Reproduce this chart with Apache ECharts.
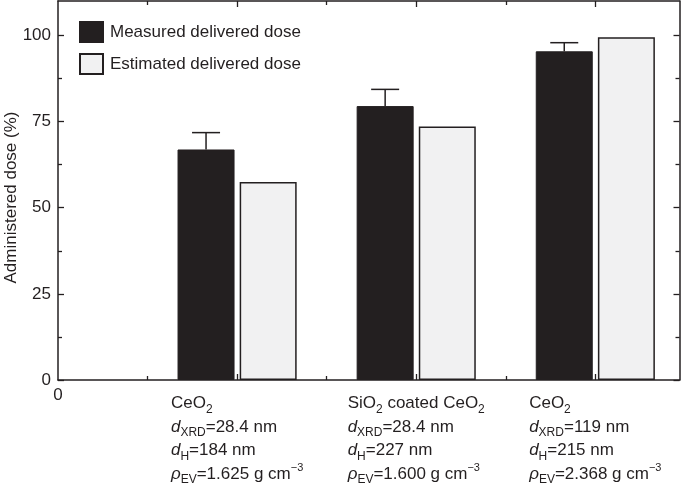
<!DOCTYPE html>
<html>
<head>
<meta charset="utf-8">
<script src="https://cdn.jsdelivr.net/npm/echarts@6/dist/echarts.min.js"></script>
<style>
  html, body { margin: 0; padding: 0; background: #fff; }
  #chart { width: 685px; height: 488px; }
</style>
</head>
<body>
<div id="chart"></div>
<script>
// ---- data ----
const groupPositions = [1, 2, 3];
const materials = ['CeO_2', 'SiO_2 coated CeO_2', 'CeO_2'];
const dXRD = ['28.4', '28.4', '119'];
const dH = ['184', '227', '215'];
const rhoEV = ['1.625', '1.600', '2.368'];
const measured = [66.9, 79.5, 95.4];
const measuredErr = [4.9, 4.85, 2.5];
const estimated = [57.5, 73.6, 99.5];
const seriesNames = ['Measured delivered dose', 'Estimated delivered dose'];
const yTickValues = [0, 25, 50, 75, 100];
const yMinorTickValues = [12.5, 37.5, 62.5, 87.5];
const xMajorTickValues = [1, 2, 3];
const xMinorTickValues = [0.5, 1.5, 2.5];
const xLabelValues = [0, 1, 2, 3];
const yTitle = 'Administered dose (%)';

// ---- style ----
const INK = '#231f20';
const LIGHT = '#f1f1f2';
const FONT = "'Liberation Sans', Arial, Helvetica, sans-serif";
const BAR_W = 57;
const BAR_GAP = 0.09;
const X_MAX = 3.47;
const Y_MAX = 110;

function markup(s) {
  return s.split(/(_\d+)/).filter(p => p.length).map(p =>
    p.startsWith('_') ? '{sub|' + p.slice(1) + '}' : '{n|' + p + '}'
  ).join('');
}

function groupLabel(i) {
  return [
    markup(materials[i]),
    '{i|d}{sub|XRD}{n|=' + dXRD[i] + ' nm}',
    '{i|d}{sub|H}{n|=' + dH[i] + ' nm}',
    '{i|ρ}{sub|EV}{n|=' + rhoEV[i] + ' g cm}{sup|−3}'
  ].join('\n');
}

const chart = echarts.init(document.getElementById('chart'), null, { renderer: 'canvas' });

const axisLineStyle = { color: INK, width: 1.5 };
const tickStyle = { color: INK, width: 1.3 };

function xAx(position, tickValues, tickLen, showLine, showLabels) {
  return {
    type: 'value', position: position, min: 0, max: X_MAX, interval: 0.5,
    axisLine: { show: showLine, onZero: false, lineStyle: axisLineStyle },
    axisTick: { show: true, inside: true, length: tickLen, customValues: tickValues, lineStyle: tickStyle },
    splitLine: { show: false },
    axisLabel: showLabels ? {
      customValues: xLabelValues,
      margin: 12,
      color: INK,
      fontFamily: FONT,
      fontSize: 17,
      align: 'center',
      formatter: function (v) {
        if (v === 0) return '{z|0}';
        const idx = groupPositions.indexOf(v);
        return idx >= 0 ? groupLabel(idx) : '';
      },
      rich: {
        z: { fontSize: 17, lineHeight: 6, fontFamily: FONT, color: INK },
        n: { fontSize: 17, lineHeight: 23.5, align: 'left', fontFamily: FONT, color: INK },
        i: { fontSize: 17, lineHeight: 23.5, align: 'left', fontStyle: 'italic', fontFamily: FONT, color: INK },
        sub: { fontSize: 12, lineHeight: 14, align: 'left', verticalAlign: 'bottom', fontFamily: FONT, color: INK },
        sup: { fontSize: 11, lineHeight: 12, align: 'left', verticalAlign: 'top', fontFamily: FONT, color: INK }
      }
    } : { show: false }
  };
}

function yAx(position, tickValues, tickLen, showLine, showLabels) {
  const ax = {
    type: 'value', position: position, min: 0, max: Y_MAX, interval: 25,
    axisLine: { show: showLine, onZero: false, lineStyle: axisLineStyle },
    axisTick: { show: true, inside: true, length: tickLen, customValues: tickValues, lineStyle: tickStyle },
    splitLine: { show: false },
    axisLabel: showLabels ? {
      customValues: yTickValues, margin: 7, color: INK, fontFamily: FONT, fontSize: 17
    } : { show: false }
  };
  if (showLabels) {
    ax.name = yTitle;
    ax.nameLocation = 'middle';
    ax.nameGap = 38;
    ax.nameMoveOverlap = false;
    ax.nameTextStyle = { color: INK, fontFamily: FONT, fontSize: 17, padding: [0, 14, 0, 0] };
  }
  return ax;
}

const gapPx = BAR_W * BAR_GAP;
const errOffset = -(BAR_W + gapPx) / 2;

const option = {
  animation: false,
  backgroundColor: '#fff',
  textStyle: { fontFamily: FONT, color: INK },
  grid: { left: 58, right: 5.5, top: 1, bottom: 108, containLabel: false, outerBoundsMode: 'none' },
  legend: {
    data: seriesNames,
    orient: 'vertical',
    left: 79, top: 21,
    padding: 0,
    itemWidth: 23, itemHeight: 20, itemGap: 10,
    icon: 'rect',
    textStyle: { fontSize: 17, color: INK, fontFamily: FONT, padding: [0, 0, 0, 2] }
  },
  xAxis: [
    xAx('bottom', xMinorTickValues, 4, true, true),
    xAx('bottom', xMajorTickValues, 6, false, false),
    xAx('top', xMinorTickValues, 4, true, false),
    xAx('top', xMajorTickValues, 6, false, false)
  ],
  yAxis: [
    yAx('left', yTickValues, 6, true, true),
    yAx('left', yMinorTickValues, 4, false, false),
    yAx('right', yTickValues, 6, true, false),
    yAx('right', yMinorTickValues, 4, false, false)
  ],
  series: [
    {
      name: seriesNames[0], type: 'bar', xAxisIndex: 0, yAxisIndex: 0,
      barWidth: BAR_W, barGap: (BAR_GAP * 100) + '%',
      itemStyle: { color: INK, borderColor: INK, borderWidth: 1 },
      data: measured.map((v, i) => [groupPositions[i], v]),
      z: 2
    },
    {
      name: seriesNames[1], type: 'bar', xAxisIndex: 0, yAxisIndex: 0,
      barWidth: BAR_W,
      itemStyle: { color: LIGHT, borderColor: INK, borderWidth: 1.5 },
      data: estimated.map((v, i) => [groupPositions[i], v]),
      z: 2
    },
    {
      type: 'custom', xAxisIndex: 0, yAxisIndex: 0, z: 3,
      data: measured.map((v, i) => [groupPositions[i], v, measuredErr[i]]),
      encode: { x: 0, y: 1 },
      renderItem: function (params, api) {
        const x = api.value(0), y = api.value(1), e = api.value(2);
        const base = api.coord([x, y]);
        const top = api.coord([x, y + e]);
        const cx = base[0] + errOffset;
        const capHalf = 14;
        const st = { stroke: INK, lineWidth: 1.5, fill: null };
        return {
          type: 'group',
          children: [
            { type: 'line', shape: { x1: cx, y1: base[1], x2: cx, y2: top[1] }, style: st },
            { type: 'line', shape: { x1: cx - capHalf, y1: top[1], x2: cx + capHalf, y2: top[1] }, style: st }
          ]
        };
      }
    }
  ]
};

chart.setOption(option);
</script>
</body>
</html>
